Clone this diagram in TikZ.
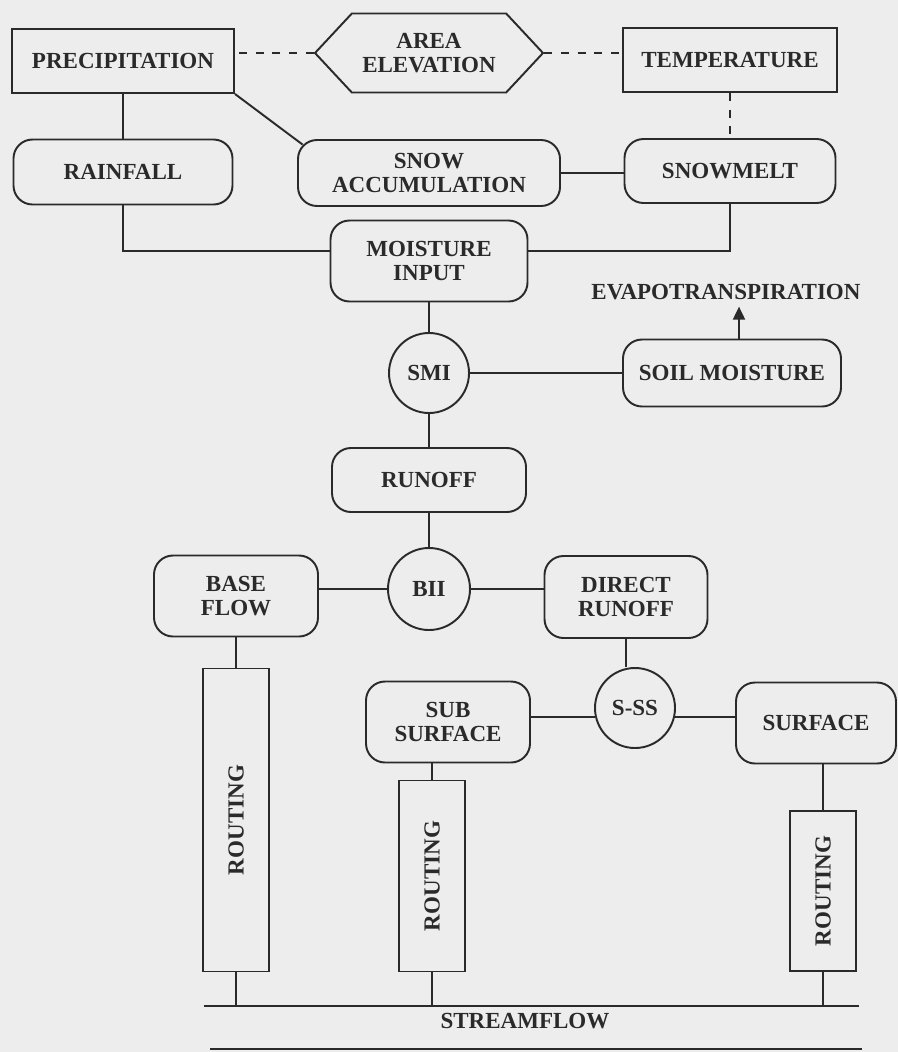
\documentclass[tikz,border=0pt]{standalone}
\usepackage{fontspec}
\setmainfont{Liberation Serif}
\usetikzlibrary{shapes.symbols, arrows.meta}
\definecolor{paper}{RGB}{237,237,237}
\definecolor{ink}{RGB}{42,42,42}

\begin{document}
\begin{tikzpicture}[
  line width=1.1pt, color=ink,
  font=\fontsize{13.1}{13.6}\selectfont\bfseries,
  box/.style={draw, rectangle, minimum height=1.28cm, text centered},
  rbox/.style={draw, rectangle, rounded corners=0.38cm, align=center},
  ring/.style={draw, circle, inner sep=0pt},
  route/.style={draw, rectangle, minimum width=1.32cm},
  link/.style={dash pattern=on 4.5pt off 5pt}
]

\fill[paper] (0,0) rectangle (17.96,-21.04);
\useasboundingbox (0,0) rectangle (17.96,-21.04);

\node (prec) [box, minimum width=4.44cm] at (2.46,-1.22) {PRECIPITATION};
\node (area) [draw, signal, signal to=east and west, signal pointer angle=94, minimum width=4.56cm, minimum height=1.58cm, align=center, right of=prec, node distance=6.12cm, yshift=0.16cm] {AREA\\ELEVATION};
\node (temp) [box, minimum width=4.28cm, right of=area, node distance=6.02cm, yshift=-0.14cm] {TEMPERATURE};

\node (rain) [rbox, minimum width=4.38cm, minimum height=1.30cm, below of=prec, node distance=2.22cm] {RAINFALL};
\node (snow) [rbox, minimum width=5.24cm, minimum height=1.32cm, below of=area, node distance=2.40cm] {SNOW\\ACCUMULATION};
\node (melt) [rbox, minimum width=4.22cm, minimum height=1.28cm, below of=temp, node distance=2.22cm] {SNOWMELT};

\node (input) [rbox, minimum width=3.94cm, minimum height=1.62cm, below of=snow, node distance=1.76cm] {MOISTURE\\INPUT};
\node (smi) [ring, minimum size=1.6cm, below of=input, node distance=2.24cm] {SMI};
\node (soil) [rbox, minimum width=4.36cm, minimum height=1.34cm, right of=smi, node distance=6.06cm] {SOIL MOISTURE};
\node (evap) [above of=soil, node distance=1.62cm, xshift=-0.12cm] {EVAPOTRANSPIRATION};
\node (runoff) [rbox, minimum width=3.88cm, minimum height=1.28cm, below of=smi, node distance=2.14cm] {RUNOFF};

\node (bii) [ring, minimum size=1.64cm, below of=runoff, node distance=2.18cm] {BII};
\node (base) [rbox, minimum width=3.28cm, minimum height=1.62cm, left of=bii, node distance=3.86cm, yshift=-0.14cm] {BASE\\FLOW};
\node (direct) [rbox, minimum width=3.26cm, minimum height=1.64cm, right of=bii, node distance=3.94cm, yshift=-0.16cm] {DIRECT\\RUNOFF};

\node (route1) [route, minimum height=6.06cm, below of=base, node distance=4.48cm] {\rotatebox{90}{ROUTING}};
\node (sub) [rbox, minimum width=3.28cm, minimum height=1.62cm, below of=bii, node distance=2.66cm, xshift=0.38cm] {SUB\\SURFACE};
\node (sss) [ring, minimum size=1.6cm, below of=direct, node distance=2.22cm, xshift=0.18cm] {S-SS};
\node (surface) [rbox, minimum width=3.2cm, minimum height=1.62cm, right of=sss, node distance=3.62cm, yshift=-0.3cm] {SURFACE};
\node (route2) [route, minimum height=3.82cm, below of=sub, node distance=3.08cm, xshift=-0.32cm] {\rotatebox{90}{ROUTING}};
\node (route3) [route, minimum height=3.2cm, below of=surface, node distance=3.36cm, xshift=0.14cm] {\rotatebox{90}{ROUTING}};

\coordinate (sl) at (4.08,-20.12);
\coordinate (sr) at (17.18,-20.12);

\draw[link] (area.west) -- (area.west -| prec.east);
\draw[link] (area.east) -- (area.east -| temp.west);
\draw[link] (temp) -- (melt);
\draw (prec) -- (rain);
\draw (prec.south east) -- ([xshift=0.11cm,yshift=-0.11cm]snow.north west);
\draw (snow.east) -- (snow.east -| melt.west);
\draw (rain.south) |- ([yshift=0.2cm]input.west);
\draw (melt.south) |- ([yshift=0.2cm]input.east);

\draw (input) -- (smi);
\draw (smi) -- (soil);
\draw[-{Triangle[length=0.26cm, width=0.24cm]}] ([xshift=0.14cm]soil.north) -- ([xshift=0.14cm]soil.north |- evap.south);
\draw (smi) -- (runoff);
\draw (runoff) -- (bii);
\draw (bii.west) -- (bii.west -| base.east);
\draw (bii.east) -- (bii.east -| direct.west);

\draw (base) -- (route1);
\draw (direct.south) -- (direct.south |- sss.north);
\draw (sss.193) -- (sss.193 -| sub.east);
\draw (sss.-13) -- (sss.-13 -| surface.west);
\draw (route2.north) -- (route2.north |- sub.south);
\draw (route3.north) -- (route3.north |- surface.south);

\draw (sl) -- (sr) node (flow) [pos=0.49, below] {STREAMFLOW};
\draw (route1.south) -- (route1.south |- sl);
\draw (route2.south) -- (route2.south |- sl);
\draw (route3.south) -- (route3.south |- sl);
\draw[line width=0.8pt] (4.2,-20.98) -- (17.24,-20.98);

\end{tikzpicture}
\end{document}
